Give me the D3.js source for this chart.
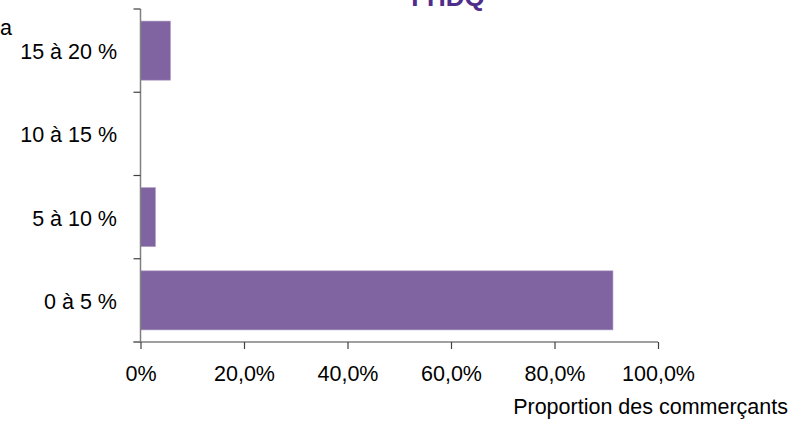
<!DOCTYPE html>
<html>
<head>
<meta charset="utf-8">
<script src="https://cdn.jsdelivr.net/npm/d3@7"></script>
<style>
  body { margin: 0; background: #fff; }
  svg text { font-family: "Liberation Sans", Arial, sans-serif; }
</style>
</head>
<body>
<div id="chart"></div>
<script>
// data
const categories = ['15 à 20 %', '10 à 15 %', '5 à 10 %', '0 à 5 %'];
const values = [5.8, 0, 2.9, 91.3];
const xTicks = [0, 20, 40, 60, 80, 100];
const xTickLabels = ['0%', '20,0%', '40,0%', '60,0%', '80,0%', '100,0%'];

const width = 804, height = 427;
const margin = { top: 9, right: 146, bottom: 85, left: 140.5 };
const innerW = width - margin.left - margin.right;
const innerH = height - margin.top - margin.bottom;
const fontSize = '21.5px';

const svg = d3.select('#chart').append('svg')
  .attr('width', width)
  .attr('height', height);

const g = svg.append('g')
  .attr('transform', `translate(${margin.left},${margin.top})`);

const x = d3.scaleLinear().domain([0, 100]).range([0, innerW]);
const y = d3.scaleBand().domain(categories).range([0, innerH]).paddingInner(0.29).paddingOuter(0.145);

// bars
g.selectAll('.bar')
  .data(categories.map((c, i) => ({ cat: c, val: values[i] })))
  .join('rect')
  .attr('class', 'bar')
  .attr('x', 0)
  .attr('y', d => y(d.cat))
  .attr('width', d => x(d.val))
  .attr('height', y.bandwidth())
  .attr('fill', '#8064a2')
  .attr('stroke', '#b3a2c7')
  .attr('stroke-width', 0.6);

// y axis with ticks between categories
const yAxisG = g.append('g');
yAxisG.append('line')
  .attr('x1', 0).attr('x2', 0)
  .attr('y1', 0).attr('y2', innerH + 1)
  .attr('stroke', '#808080').attr('stroke-width', 1.5);
const step = innerH / categories.length;
yAxisG.selectAll('.ytick')
  .data(d3.range(categories.length + 1))
  .join('line')
  .attr('class', 'ytick')
  .attr('x1', -7).attr('x2', 0)
  .attr('y1', i => i * step).attr('y2', i => i * step)
  .attr('stroke', '#404040').attr('stroke-width', 1.2);
yAxisG.selectAll('.ylabel')
  .data(categories)
  .join('text')
  .attr('class', 'ylabel')
  .attr('x', -23.5)
  .attr('y', d => y(d) + y.bandwidth() / 2 + 8.5)
  .attr('text-anchor', 'end')
  .style('font-size', fontSize)
  .attr('fill', '#000')
  .text(d => d);

// x axis
const xAxis = d3.axisBottom(x)
  .tickValues(xTicks)
  .tickFormat((d, i) => xTickLabels[i])
  .tickSize(7)
  .tickSizeOuter(0);
const xAxisG = g.append('g')
  .attr('transform', `translate(0,${innerH})`)
  .call(xAxis);
xAxisG.select('.domain').attr('stroke', '#808080').attr('stroke-width', 1.5)
  .attr('d', `M-7,0H${innerW}`);
xAxisG.selectAll('.tick line').attr('stroke', '#404040').attr('stroke-width', 1.2);
xAxisG.selectAll('.tick text')
  .attr('y', 39)
  .attr('dy', null)
  .style('font-size', fontSize)
  .attr('fill', '#000');

// axis title
svg.append('text')
  .attr('x', 788)
  .attr('y', 414)
  .attr('text-anchor', 'end')
  .style('font-size', fontSize)
  .attr('fill', '#000')
  .text('Proportion des commerçants');

// chart title (cut off at the top)
svg.append('text')
  .attr('x', 448)
  .attr('y', 6)
  .attr('text-anchor', 'middle')
  .style('font-size', '26px')
  .style('font-weight', 'bold')
  .attr('fill', '#4f2d8a')
  .text('FHDQ');

// leftover of a cut-off label
svg.append('text')
  .attr('x', 0)
  .attr('y', 35)
  .style('font-size', fontSize)
  .attr('fill', '#000')
  .text('a');
</script>
</body>
</html>
